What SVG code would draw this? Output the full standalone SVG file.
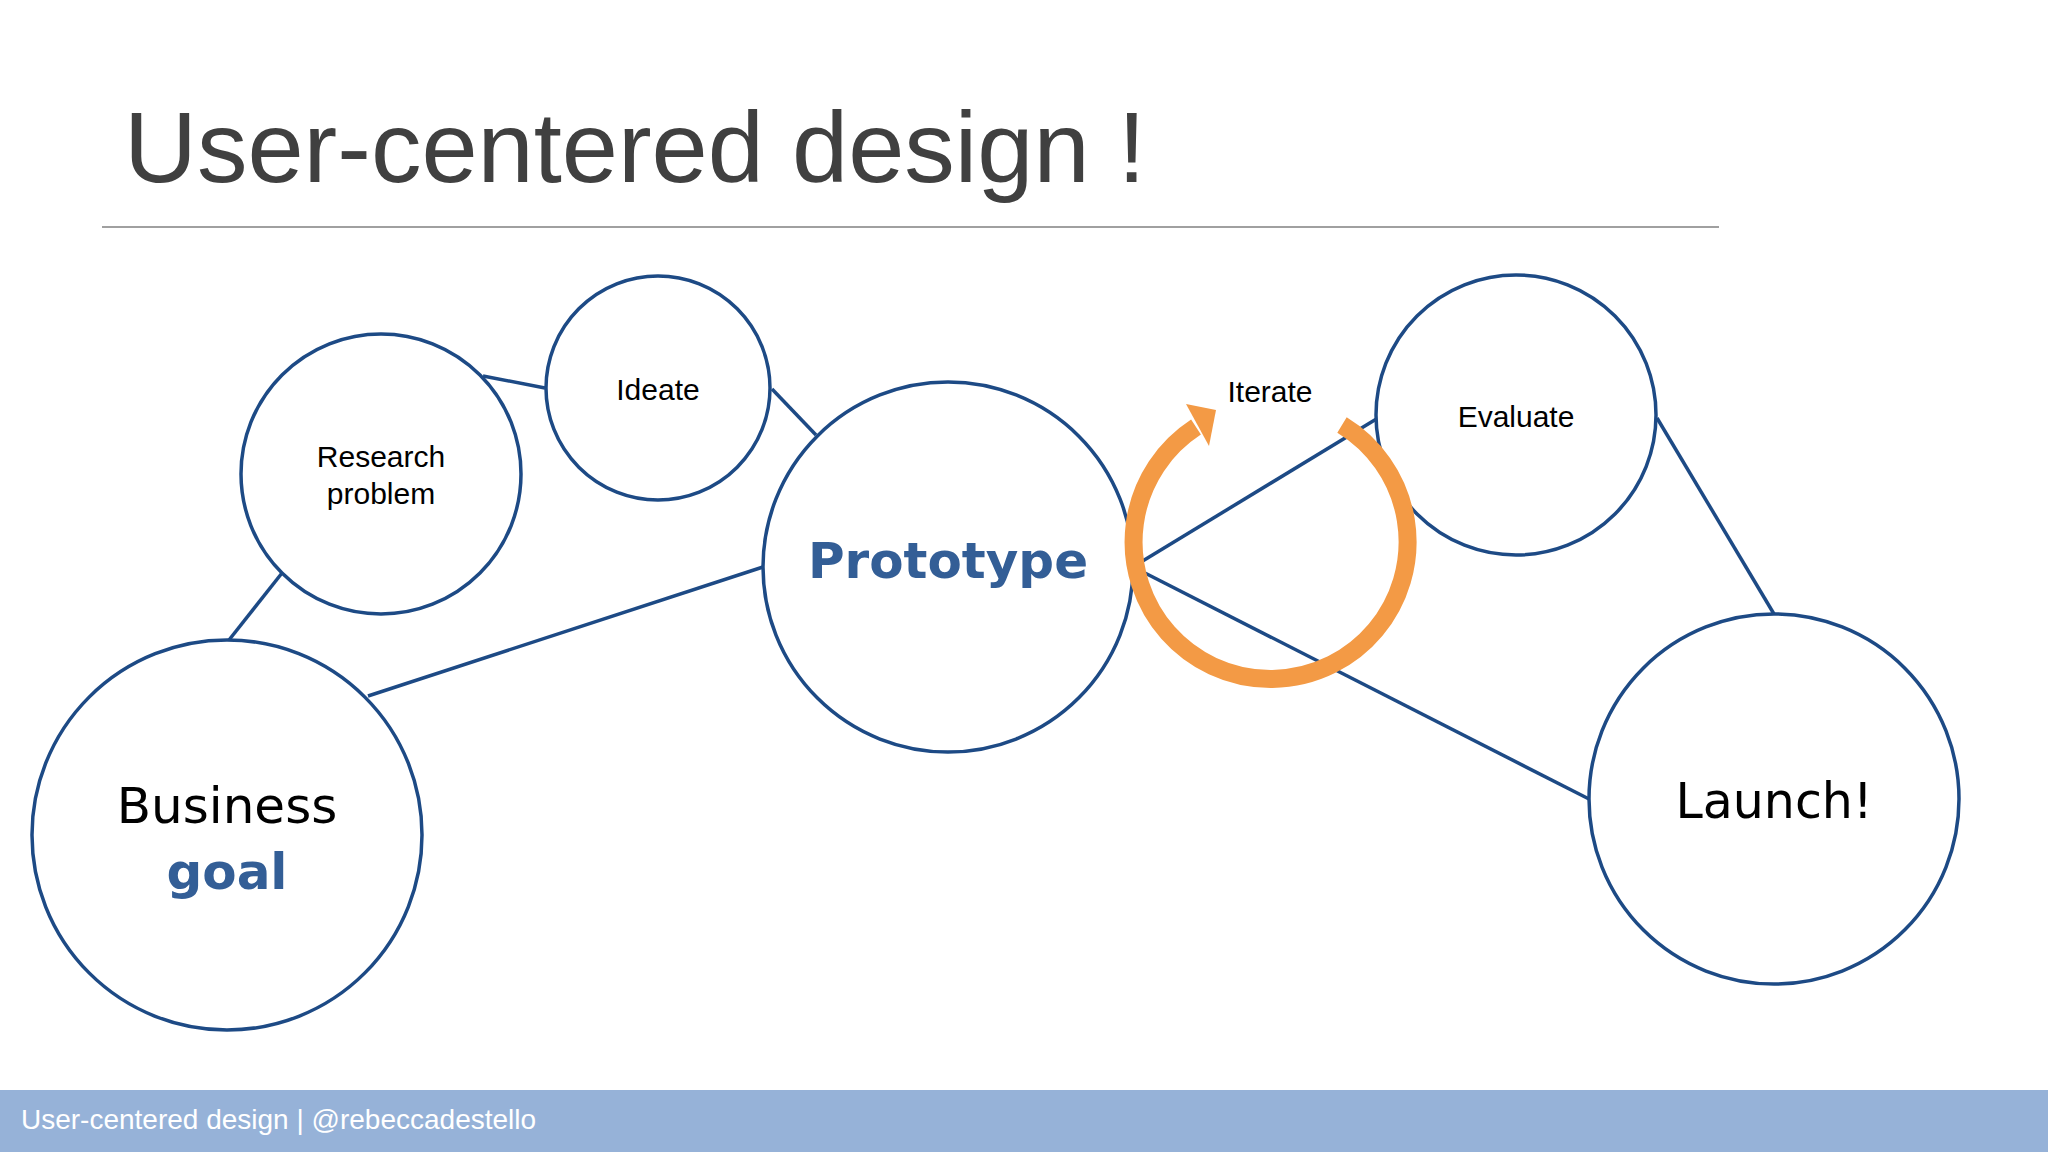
<svg xmlns="http://www.w3.org/2000/svg" width="2048" height="1152" viewBox="0 0 2048 1152">
<style>
.n{fill:#fff;stroke:#1d4a85;stroke-width:3.5}
.c line{stroke:#1d4a85;stroke-width:3.5}
.s{font-family:"Liberation Sans",Arial,sans-serif;font-size:30px;fill:#000;text-anchor:middle}
.d{font-family:"DejaVu Sans",Verdana,sans-serif;text-anchor:middle}
</style>
<rect width="2048" height="1152" fill="#fff"/>
<text x="124" y="182" font-family="Liberation Sans,Arial,sans-serif" font-size="101" fill="#404040">User-centered design !</text>
<line x1="102" y1="227" x2="1719" y2="227" stroke="#808080" stroke-width="1.5"/>
<g class="c" id="connectors">
<line x1="483" y1="376" x2="545" y2="388"/>
<line x1="772" y1="389" x2="816" y2="435"/>
<line x1="282" y1="573" x2="229" y2="640"/>
<line x1="368" y1="696" x2="763" y2="567"/>
<line x1="1141" y1="562" x2="1378" y2="418"/>
<line x1="1141" y1="571" x2="1589" y2="799"/>
<line x1="1657" y1="418" x2="1774" y2="614"/>
</g>
<g id="research"><circle class="n" cx="381" cy="474" r="140"/><text class="s" x="381" y="467">Research</text><text class="s" x="381" y="504">problem</text></g>
<g id="ideate"><circle class="n" cx="658" cy="388" r="112"/><text class="s" x="658" y="400">Ideate</text></g>
<g id="prototype"><circle class="n" cx="948" cy="567" r="185"/><text class="d" x="948" y="578" font-size="50" font-weight="bold" fill="#335e96">Prototype</text></g>
<g id="evaluate"><circle class="n" cx="1516" cy="415" r="140"/><text class="s" x="1516" y="427">Evaluate</text></g>
<g id="business"><circle class="n" cx="227" cy="835" r="195"/><text class="d" x="227" y="823" font-size="50" fill="#000">Business</text><text class="d" x="227" y="889" font-size="50" font-weight="bold" fill="#335e96">goal</text></g>
<g id="launch"><circle class="n" cx="1774" cy="799" r="185"/><text class="d" x="1774" y="818" font-size="49" fill="#000">Launch!</text></g>
<g id="iterate">
<path d="M1342,425 A137,137 0 1 1 1196,427" fill="none" stroke="#f39a45" stroke-width="18"/>
<polygon points="1186,404 1216,410 1209,446" fill="#f39a45"/>
<text class="s" x="1270" y="402">Iterate</text>
</g>
<rect x="0" y="1090" width="2048" height="62" fill="#96b2d8"/>
<text x="21" y="1129" font-family="Liberation Sans,Arial,sans-serif" font-size="28" fill="#fff">User-centered design | @rebeccadestello</text>
</svg>
